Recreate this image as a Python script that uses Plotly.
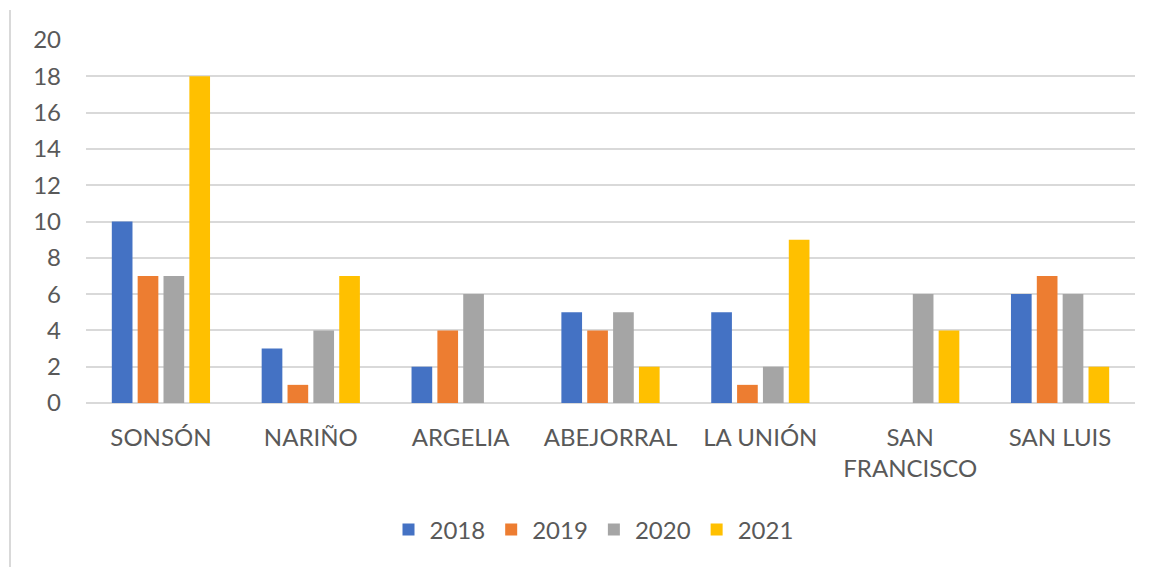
import plotly.graph_objects as go

categories = ["SONSÓN", "NARIÑO", "ARGELIA", "ABEJORRAL", "LA UNIÓN", "SAN<br>FRANCISCO", "SAN LUIS"]
series_names = ["2018", "2019", "2020", "2021"]
v2018 = [10, 3, 2, 5, 5, 0, 6]
v2019 = [7, 1, 4, 4, 1, 0, 7]
v2020 = [7, 4, 6, 5, 2, 6, 6]
v2021 = [18, 7, 0, 2, 9, 4, 2]
y_ticks = [0, 2, 4, 6, 8, 10, 12, 14, 16, 18, 20]
colors = ["#4472C4", "#ED7D31", "#A5A5A5", "#FFC000"]

OFF = 8  # default page body margin
W, H = 1157 - OFF, 567 - OFF
L, T = 86 - OFF, 40 - OFF
R = W - (1135 - OFF)
B = H - (403 - OFF)
pw, ph = W - L - R, H - T - B

fig = go.Figure()
for name, vals, c in zip(series_names, [v2018, v2019, v2020, v2021], colors):
    fig.add_trace(go.Bar(name=name, x=categories, y=vals, marker=dict(color=c, line=dict(width=0))))

fig.update_layout(
    width=W, height=H,
    margin=dict(l=L, r=R, t=T, b=B, autoexpand=False),
    paper_bgcolor="white", plot_bgcolor="white",
    barmode="group", bargap=0.31, bargroupgap=0.2,
    font=dict(family="Lato", size=24, color="#595959"),
    legend=dict(orientation="h", x=(593 - 86) / pw, xanchor="center",
                y=(403 - 530) / ph, yanchor="middle",
                font=dict(size=24, color="#595959"), itemwidth=32, tracegroupgap=0),
    xaxis=dict(showgrid=False, showline=False, ticks="", ticklabelstandoff=18, automargin=False),
    yaxis=dict(range=[0, 20], tickvals=y_ticks, showgrid=True, gridcolor="#D9D9D9", gridwidth=2,
               zeroline=True, zerolinecolor="#D9D9D9", zerolinewidth=2,
               showline=False, ticks="", ticklabelstandoff=24, automargin=False),
    shapes=[dict(type="line", xref="paper", yref="paper",
                 x0=(10 - 86) / pw, x1=(10 - 86) / pw,
                 y0=(403 - 10) / ph, y1=(403 - 580) / ph,
                 line=dict(color="#D9D9D9", width=2))],
)

fig.write_html("out.html")
